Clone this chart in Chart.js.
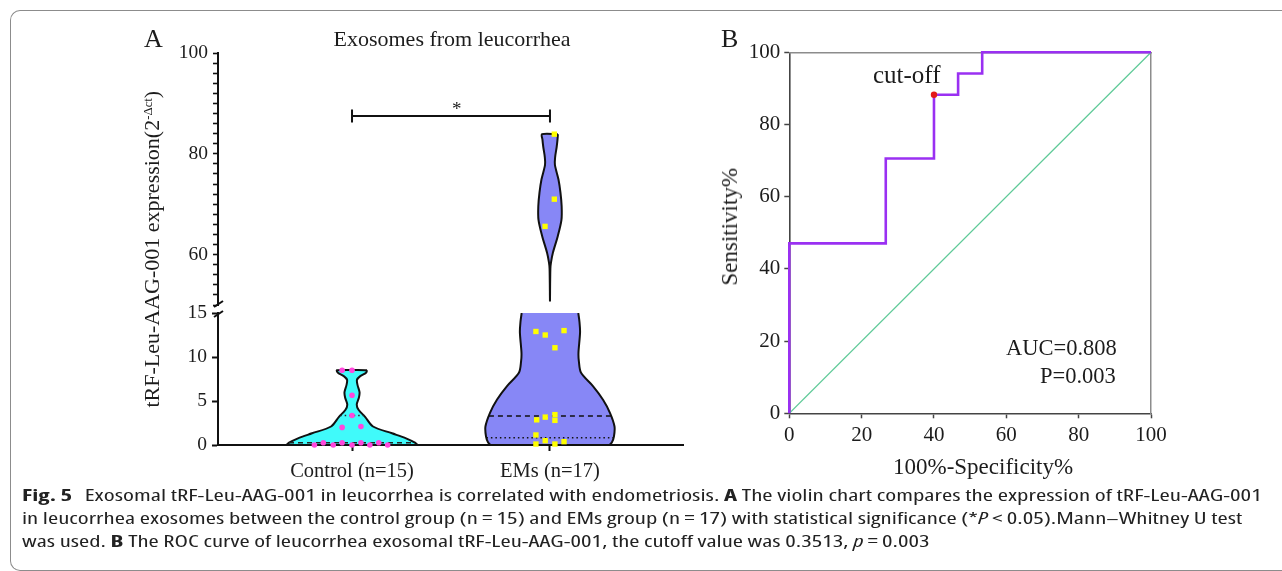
<!DOCTYPE html>
<html>
<head>
<meta charset="utf-8">
<title>Fig. 5</title>
<script src="https://cdn.jsdelivr.net/npm/chart.js@4.4.1/dist/chart.umd.min.js"></script>
<style>
  html, body { margin:0; padding:0; background:#fff; }
  body { width:1282px; height:571px; position:relative; overflow:hidden; }
  .frame { position:absolute; left:10px; top:10px; width:1300px; height:561px; border:1.5px solid #8c8c8c; border-right:none; border-radius:10px 0 0 10px; box-sizing:border-box; }
  canvas.layer { position:absolute; left:0; top:0; }
  .lbl { position:absolute; left:0; top:0; white-space:nowrap; line-height:1.2; font-family:'Liberation Serif','Times New Roman',serif; color:#1c1c1c; }
  .cap { position:absolute; left:0; top:0; white-space:nowrap; line-height:1.2; font-family:'Open Sans','Noto Sans','DejaVu Sans Condensed',sans-serif; font-stretch:75%; font-size:15.5px; color:#222; }
  sup.s { font-size:0.58em; vertical-align:0.6em; line-height:0; }
</style>
</head>
<body>
<div class="frame"></div>
<canvas id="aTop" class="layer" width="1282" height="571"></canvas>
<canvas id="aLow" class="layer" width="1282" height="571"></canvas>
<canvas id="rocB" class="layer" width="1282" height="571"></canvas>
<script>
// ---------------- DATA ----------------
const categories = ['Control (n=15)', 'EMs (n=17)'];

// Control group: expression values and horizontal scatter offsets (category units)
const ctrlValues = [8.5, 8.5, 5.65, 3.35, 2.0, 2.1, 0.0, 0.26, 0.0, 0.26, 0.0, 0.26, 0.0, 0.26, 0.0];
const ctrlJitter = [-0.05, 0, 0, 0, -0.05, 0.045, -0.19, -0.145, -0.095, -0.05, 0, 0.045, 0.09, 0.135, 0.18];

// EMs group
const emsValues = [83.9, 71.0, 65.6, 12.9, 12.5, 13.0, 11.05, 3.17, 2.86, 3.45, 2.8, 1.14, 0.11, 0.49, 0.11, 0.38];
const emsJitter = [0.022, 0.022, -0.025, -0.071, -0.024, 0.071, 0.025, -0.024, -0.067, 0.025, 0.025, -0.071, -0.071, -0.024, 0.025, 0.071];

// Violin outlines: level (y) and half width (category units)
const ctrlProfileY    = [0, 0.26, 0.76, 1.33, 2.1, 3.2, 4.0, 4.6, 5.4, 6.0, 6.8, 7.4, 7.8, 8.2, 8.5];
const ctrlProfileHalf = [0.328, 0.318, 0.273, 0.202, 0.106, 0.066, 0.033, 0.024, 0.035, 0.038, 0.028, 0.025, 0.040, 0.071, 0.076];
const emsLowProfileY    = [0, 0.3, 0.95, 2.1, 3.66, 5.15, 6.7, 8.2, 9.5, 10.5, 12.8, 14.0, 15];
const emsLowProfileHalf = [0.298, 0.313, 0.323, 0.326, 0.303, 0.268, 0.217, 0.157, 0.146, 0.144, 0.152, 0.149, 0.143];
const emsHighProfileY    = [50.7, 57.2, 58.4, 60.4, 63.6, 66.9, 69.6, 72.3, 74.9, 77.8, 79.3, 81.4, 82.8, 83.9];
const emsHighProfileHalf = [0, 0.002, 0.005, 0.015, 0.039, 0.058, 0.059, 0.053, 0.043, 0.025, 0.026, 0.034, 0.038, 0.040];

// Median / quartile lines
const ctrlMedian = 0.25, ctrlQ3 = 3.35;
const emsMedian = 3.3, emsQ1 = 0.83;

// Significance bracket level
const sigY = 87.5;

// Broken y axis segments
const lowRange = [0, 15];
const highRange = [50, 100];

// ROC curve (panel B)
const rocFpr = [0, 0, 26.67, 26.67, 40, 40, 46.67, 46.67, 53.33, 53.33, 100];
const rocTpr = [0, 47.06, 47.06, 70.59, 70.59, 88.24, 88.24, 94.12, 94.12, 100, 100];
const cutoffPoint = [40, 88.24];
const refLineX = [0, 100];
const refLineY = [0, 100];
const rocTicks = [0, 20, 40, 60, 80, 100];

// ---------------- helpers ----------------
const SERIF = "'Liberation Serif', 'Times New Roman', serif";
Chart.defaults.font.family = SERIF;
Chart.defaults.color = '#1c1c1c';
Chart.defaults.animation = false;
Chart.defaults.events = [];
Chart.defaults.plugins.legend.display = false;
Chart.defaults.plugins.tooltip.enabled = false;

function violin(center, ys, hs, closeTop) {
  const pts = [];
  for (let i = ys.length - 1; i >= 0; i--) pts.push({x: center + hs[i], y: ys[i]});
  for (let i = 0; i < ys.length; i++) pts.push({x: center - hs[i], y: ys[i]});
  if (closeTop) pts.push({x: center + hs[hs.length - 1], y: ys[ys.length - 1]});
  return pts;
}
function halfAt(ys, hs, v) {
  for (let i = 1; i < ys.length; i++) {
    if (v <= ys[i]) { const t = (v - ys[i-1]) / (ys[i] - ys[i-1]); return hs[i-1] + t * (hs[i] - hs[i-1]); }
  }
  return hs[hs.length - 1];
}
function hline(center, ys, hs, v) {
  const h = halfAt(ys, hs, v);
  return [{x: center - h, y: v}, {x: center + h, y: v}];
}

// layout (pixel) constants
const A_LEFT = 218, A_RIGHT = 683, A_HIGH_TOP = 53, A_HIGH_BOT = 305, A_LOW_TOP = 313, A_LOW_BOT = 445;
const YW = 70, XH = 50;
const X_MIN = 0.323, X_MAX = 2.672;
const B_LEFT = 789.3, B_RIGHT = 1151, B_TOP = 52.3, B_BOT = 413.3, BYW = 60, BXH = 50;

const ctrlPts = ctrlValues.map((v, i) => ({x: 1 + ctrlJitter[i], y: v}));
const emsPts = emsValues.map((v, i) => ({x: 2 + emsJitter[i], y: v}));

const breakMarks = {
  id: 'breakMarks',
  afterDraw(chart, args, opts) {
    const {ctx, chartArea} = chart;
    const x = chartArea.left;
    const y = opts.edge === 'bottom' ? chartArea.bottom - 1 : chartArea.top + 1;
    ctx.save();
    ctx.strokeStyle = '#111';
    ctx.lineWidth = 2;
    ctx.beginPath();
    ctx.moveTo(x - 4, y + 3);
    ctx.lineTo(x + 5, y - 3);
    ctx.stroke();
    ctx.restore();
  }
};

const tickFontA = {size: 19.5, family: SERIF};

// ---------------- Panel A, upper segment ----------------
new Chart(document.getElementById('aTop'), {
  type: 'line',
  data: {
    datasets: [
      { data: emsPts.filter(p => p.y > lowRange[1]), showLine: false, pointStyle: 'rect', pointRadius: 3.8,
        backgroundColor: '#ffff00', borderWidth: 0, clip: false, order: 0 },
      { data: [{x:1,y:sigY+1.3},{x:1,y:sigY-1.3},{x:1,y:sigY},{x:2,y:sigY},{x:2,y:sigY+1.3},{x:2,y:sigY-1.3}],
        showLine: true, borderColor: '#111', borderWidth: 2, pointRadius: 0, tension: 0, order: 1 },
      { data: violin(2, emsHighProfileY, emsHighProfileHalf, true), showLine: true, fill: 'shape',
        backgroundColor: '#8787f6', borderColor: '#111', borderWidth: 2, pointRadius: 0, tension: 0.3, order: 2 }
    ]
  },
  options: {
    responsive: false,
    layout: { padding: { left: A_LEFT - YW, right: 1282 - A_RIGHT, top: A_HIGH_TOP, bottom: 571 - A_HIGH_BOT } },
    scales: {
      x: { type: 'linear', min: X_MIN, max: X_MAX, display: false },
      y: { type: 'linear', min: highRange[0], max: highRange[1],
           afterFit: s => { s.width = YW; },
           ticks: { stepSize: 2, maxTicksLimit: 1000, autoSkip: false, padding: 5, font: tickFontA, color: '#1c1c1c',
                    callback: v => (v % 20 === 0 ? String(v) : '') },
           grid: { drawOnChartArea: false, tickLength: 5, tickWidth: 1.6, tickColor: '#111' },
           border: { color: '#111', width: 2 } }
    },
    plugins: { breakMarks: { edge: 'bottom' } }
  },
  plugins: [breakMarks]
});

// ---------------- Panel A, lower segment ----------------
new Chart(document.getElementById('aLow'), {
  type: 'line',
  data: {
    datasets: [
      { data: ctrlPts, showLine: false, pointStyle: 'circle', pointRadius: 2.8,
        backgroundColor: '#ff47dc', borderWidth: 0, clip: false, order: 0 },
      { data: emsPts.filter(p => p.y <= lowRange[1]), showLine: false, pointStyle: 'rect', pointRadius: 3.8,
        backgroundColor: '#ffff00', borderWidth: 0, clip: false, order: 0 },
      { data: hline(1, ctrlProfileY, ctrlProfileHalf, ctrlMedian), showLine: true, borderColor: '#222', borderWidth: 1.6,
        borderDash: [5, 4], pointRadius: 0, order: 1 },
      { data: hline(1, ctrlProfileY, ctrlProfileHalf, ctrlQ3), showLine: true, borderColor: '#222', borderWidth: 1.6,
        borderDash: [1.5, 3], pointRadius: 0, order: 1 },
      { data: hline(2, emsLowProfileY, emsLowProfileHalf, emsMedian), showLine: true, borderColor: '#111', borderWidth: 1.6,
        borderDash: [5, 4], pointRadius: 0, order: 1 },
      { data: hline(2, emsLowProfileY, emsLowProfileHalf, emsQ1), showLine: true, borderColor: '#111', borderWidth: 1.6,
        borderDash: [1.5, 3], pointRadius: 0, order: 1 },
      { data: violin(1, ctrlProfileY, ctrlProfileHalf, true), showLine: true, fill: 'shape',
        backgroundColor: '#40fafa', borderColor: '#111', borderWidth: 2, pointRadius: 0, tension: 0.3, order: 2 },
      { data: violin(2, emsLowProfileY, emsLowProfileHalf, false), showLine: true, fill: 'shape',
        backgroundColor: '#8787f6', borderColor: '#111', borderWidth: 2, pointRadius: 0, tension: 0.3, order: 2 }
    ]
  },
  options: {
    responsive: false,
    layout: { padding: { left: A_LEFT - YW, right: 1282 - A_RIGHT, top: A_LOW_TOP, bottom: 571 - A_LOW_BOT - XH } },
    scales: {
      x: { type: 'linear', min: X_MIN, max: X_MAX,
           afterBuildTicks: s => { s.ticks = categories.map((c, i) => ({value: i + 1})); },
           afterFit: s => { s.height = XH; },
           ticks: { autoSkip: false, maxRotation: 0, padding: 8, font: {size: 20.5, family: SERIF}, color: '#1c1c1c',
                    callback: v => categories[v - 1] || '' },
           grid: { drawOnChartArea: false, tickLength: 6, tickWidth: 2, tickColor: '#111' },
           border: { color: '#111', width: 2 } },
      y: { type: 'linear', min: lowRange[0], max: lowRange[1],
           afterFit: s => { s.width = YW; },
           ticks: { stepSize: 5, autoSkip: false, padding: 5, font: tickFontA, color: '#1c1c1c' },
           grid: { drawOnChartArea: false, tickLength: 6, tickWidth: 2, tickColor: '#111' },
           border: { color: '#111', width: 2 } }
    },
    plugins: { breakMarks: { edge: 'top' } }
  },
  plugins: [breakMarks]
});

// ---------------- Panel B, ROC ----------------
const tickFontB = {size: 21, family: SERIF};
new Chart(document.getElementById('rocB'), {
  type: 'line',
  data: {
    datasets: [
      { data: [{x: cutoffPoint[0], y: cutoffPoint[1]}], showLine: false, pointRadius: 3.2,
        backgroundColor: '#e31a1a', borderWidth: 0, clip: false, order: 0 },
      { data: rocFpr.map((x, i) => ({x, y: rocTpr[i]})), showLine: true, borderColor: '#9a30f2', borderWidth: 2.6,
        pointRadius: 0, tension: 0, clip: 4, order: 1 },
      { data: refLineX.map((x, i) => ({x, y: refLineY[i]})), showLine: true, borderColor: '#5fca98', borderWidth: 1.3,
        pointRadius: 0, tension: 0, order: 2 }
    ]
  },
  options: {
    responsive: false,
    layout: { padding: { left: B_LEFT - BYW, right: 1282 - B_RIGHT, top: B_TOP, bottom: 571 - B_BOT - BXH } },
    scales: {
      x: { type: 'linear', position: 'bottom', min: 0, max: 100,
           afterBuildTicks: s => { s.ticks = rocTicks.map(v => ({value: v})); },
           afterFit: s => { s.height = BXH; },
           ticks: { autoSkip: false, maxRotation: 0, padding: 5, font: tickFontB, color: '#1c1c1c' },
           grid: { drawOnChartArea: false, tickLength: 5, tickWidth: 1.5, tickColor: '#444' },
           border: { color: '#444', width: 1.6 } },
      y: { type: 'linear', position: 'left', min: 0, max: 100,
           afterBuildTicks: s => { s.ticks = rocTicks.map(v => ({value: v})); },
           afterFit: s => { s.width = BYW; },
           ticks: { autoSkip: false, padding: 4, font: tickFontB, color: '#1c1c1c' },
           grid: { drawOnChartArea: false, tickLength: 5, tickWidth: 1.5, tickColor: '#444' },
           border: { color: '#444', width: 1.6 } },
      xTop: { axis: 'x', type: 'linear', position: 'top', min: 0, max: 100,
           afterFit: s => { s.height = 0; },
           ticks: { display: false }, grid: { display: false },
           border: { color: '#8c8c8c', width: 1.5 } },
      yRight: { axis: 'y', type: 'linear', position: 'right', min: 0, max: 100,
           afterFit: s => { s.width = 0; },
           ticks: { display: false }, grid: { display: false },
           border: { color: '#8c8c8c', width: 1.5 } }
    }
  }
});

// ---------------- Text (HTML) ----------------
function addText(html, o) {
  const el = document.createElement('div');
  el.className = o.cls || 'lbl';
  el.innerHTML = html;
  if (o.size) el.style.fontSize = o.size + 'px';
  document.body.appendChild(el);
  const probe = document.createElement('span');
  probe.style.cssText = 'display:inline-block;width:0;height:0;vertical-align:baseline;';
  el.appendChild(probe);
  const baseOff = probe.offsetTop;
  const w = el.offsetWidth, h = el.offsetHeight;
  el.removeChild(probe);
  if (o.rotate) {
    el.style.left = (o.x - w / 2) + 'px';
    el.style.top = (o.y - h / 2) + 'px';
    el.style.transform = 'rotate(-90deg)';
    return el;
  }
  let left = o.x;
  if (o.align === 'center') left -= w / 2;
  else if (o.align === 'right') left -= w;
  el.style.left = left + 'px';
  el.style.top = (o.base - baseOff) + 'px';
  if (o.fit) { el.style.transformOrigin = '0 0'; el.style.transform = 'scaleX(' + (o.fit / w) + ')'; }
  return el;
}

addText('A', {x: 144, base: 47, size: 26});
addText('B', {x: 721, base: 47, size: 26});
addText('Exosomes from leucorrhea', {x: 452, base: 46, size: 22, align: 'center'});
addText('*', {x: 457, base: 115, size: 19, align: 'center'});
addText('tRF-Leu-AAG-001 expression(2<sup class="s">-Δct</sup>)', {x: 152, y: 249, size: 22, rotate: true});
addText('cut-off', {x: 907, base: 83, size: 25, align: 'center'});
addText('AUC=0.808', {x: 1117, base: 355, size: 22.5, align: 'right'});
addText('P=0.003', {x: 1116, base: 383, size: 22.5, align: 'right'});
addText('Sensitivity%', {x: 730, y: 227, size: 23, rotate: true});
addText('100%-Specificity%', {x: 983, base: 474, size: 23, align: 'center'});

addText('<b>Fig. 5</b>&ensp;Exosomal tRF-Leu-AAG-001 in leucorrhea is correlated with endometriosis. <b>A</b> The violin chart compares the expression of tRF-Leu-AAG-001',
  {cls: 'cap', x: 22, base: 501, fit: 1240});
addText('in leucorrhea exosomes between the control group (n&#8201;=&#8201;15) and EMs group (n&#8201;=&#8201;17) with statistical significance (*<i>P</i>&#8201;&lt;&#8201;0.05).Mann–Whitney U test',
  {cls: 'cap', x: 22, base: 524, fit: 1221});
addText('was used. <b>B</b> The ROC curve of leucorrhea exosomal tRF-Leu-AAG-001, the cutoff value was 0.3513, <i>p</i>&#8201;=&#8201;0.003',
  {cls: 'cap', x: 22, base: 547, fit: 907});
</script>
</body>
</html>
